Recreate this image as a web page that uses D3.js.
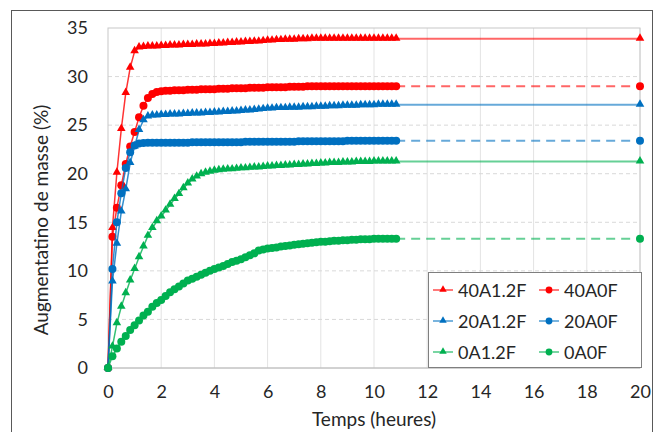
<!DOCTYPE html>
<html><head><meta charset="utf-8">
<script src="https://cdn.jsdelivr.net/npm/d3@7"></script>
<style>body{margin:0;background:#fff} svg{display:block} text{font-family:Lato,"Open Sans",sans-serif;fill:#262626}</style>
</head><body><svg id="c" width="653" height="432"></svg>
<script>
// time of each measurement (minutes)
const minutes = [0,10,20,30,40,50,60,70,80,90,100,110,120,130,140,150,160,170,180,190,200,210,220,230,240,250,260,270,280,290,300,310,320,330,340,350,360,370,380,390,400,410,420,430,440,450,460,470,480,490,500,510,520,530,540,550,560,570,580,590,600,610,620,630,640,650];
const seriesNames = ["40A1.2F","40A0F","20A1.2F","20A0F","0A1.2F","0A0F"];
const v40A12F = [0,14.4,20.1,24.6,28.3,30.9,32.6,33.0,33.05,33.1,33.1,33.1,33.15,
  33.15,33.2,33.2,33.2,33.25,33.25,33.25,33.3,33.3,33.3,33.35,33.35,
  33.4,33.4,33.45,33.45,33.5,33.5,33.55,33.55,33.6,33.6,33.65,33.7,
  33.7,33.75,33.75,33.8,33.8,33.8,33.85,33.85,33.85,33.9,33.9,33.9,
  33.9,33.9,33.9,33.9,33.9,33.9,33.9,33.9,33.9,33.9,33.9,33.9,33.9,33.9,33.9,33.9,33.9];
const v40A0F = [0,13.5,16.5,18.8,21.0,22.8,24.3,25.8,27.0,27.8,28.2,28.4,28.5,
  28.55,28.55,28.6,28.6,28.6,28.65,28.65,28.65,28.7,28.7,28.7,28.7,
  28.75,28.75,28.75,28.8,28.8,28.8,28.8,28.85,28.85,28.85,28.85,28.9,
  28.9,28.9,28.9,28.9,28.95,28.95,28.95,28.95,29.0,29.0,29.0,29.0,
  29.0,29.0,29.0,29.0,29.0,29.0,29.0,29.0,29.0,29.0,29.0,29.0,29.0,29.0,29.0,29.0,29.0];
const v20A12F = [0,8.9,12.8,16.1,18.4,21.1,22.8,24.5,25.5,25.9,26.0,26.0,26.05,
  26.05,26.1,26.1,26.1,26.15,26.15,26.2,26.2,26.2,26.25,26.25,26.3,
  26.3,26.35,26.35,26.4,26.4,26.45,26.5,26.5,26.55,26.6,26.65,26.7,
  26.7,26.75,26.75,26.75,26.8,26.8,26.8,26.85,26.85,26.85,26.9,26.9,
  26.9,26.95,26.95,26.95,27.0,27.0,27.0,27.0,27.05,27.05,27.05,27.05,27.1,27.1,27.1,27.1,27.1];
const v20A0F = [0,10.2,15.0,18.0,20.6,22.2,22.9,23.1,23.15,23.2,23.2,23.2,23.2,
  23.2,23.2,23.2,23.2,23.2,23.2,23.25,23.25,23.25,23.25,23.25,23.25,
  23.25,23.25,23.25,23.25,23.25,23.25,23.3,23.3,23.3,23.3,23.3,23.3,
  23.3,23.3,23.3,23.3,23.3,23.3,23.35,23.35,23.35,23.35,23.35,23.35,
  23.35,23.35,23.35,23.35,23.35,23.4,23.4,23.4,23.4,23.4,23.4,23.4,23.4,23.4,23.4,23.4,23.4];
const v0A12F = [0,2.2,4.6,6.3,7.7,9.0,10.2,11.4,12.5,13.6,14.4,15.1,15.6,
  16.2,16.8,17.4,17.9,18.5,19.0,19.4,19.7,19.95,20.1,20.2,20.3,
  20.35,20.4,20.45,20.45,20.5,20.55,20.55,20.6,20.65,20.65,20.7,20.75,
  20.75,20.8,20.8,20.85,20.85,20.9,20.9,20.95,20.95,21.0,21.0,21.05,
  21.05,21.1,21.1,21.1,21.15,21.15,21.15,21.2,21.2,21.2,21.2,21.25,21.25,21.25,21.25,21.25,21.25];
const v0A0F = [0,1.2,2.0,2.7,3.3,3.9,4.4,4.9,5.4,5.8,6.3,6.7,7.0,
  7.4,7.8,8.1,8.4,8.7,9.0,9.2,9.4,9.6,9.8,10.0,10.2,
  10.35,10.5,10.7,10.9,11.05,11.2,11.4,11.6,11.8,12.1,12.2,12.3,
  12.35,12.4,12.5,12.55,12.6,12.7,12.75,12.8,12.85,12.9,12.95,13.0,
  13.0,13.05,13.1,13.1,13.15,13.15,13.2,13.2,13.25,13.25,13.25,13.3,13.3,13.3,13.3,13.3,13.3];
// final measurement at 20 h
const finalHour = 20;
const finalValues = [33.9, 29.0, 27.1, 23.4, 21.25, 13.3];
const xTicks = [0,2,4,6,8,10,12,14,16,18,20];
const yTicks = [0,5,10,15,20,25,30,35];

const seriesValues = [v40A12F, v40A0F, v20A12F, v20A0F, v0A12F, v0A0F];
const colors = ["#ff0000","#ff0000","#0070c0","#0070c0","#00b050","#00b050"];
const shapes = ["tri","circ","tri","circ","tri","circ"];

const svg = d3.select("#c");
const x = d3.scaleLinear().domain([0,20]).range([108,640]);
const y = d3.scaleLinear().domain([0,35]).range([368,28]);

// outer frame
svg.append("rect").attr("x",11.5).attr("y",10.5).attr("width",641).attr("height",440)
  .attr("fill","none").attr("stroke","#595959").attr("stroke-width",1);

// grid
svg.append("g").selectAll("line").data(xTicks.slice(1)).join("line")
  .attr("x1",d=>x(d)).attr("x2",d=>x(d)).attr("y1",y(35)).attr("y2",y(0))
  .attr("stroke","#e3e3e3").attr("stroke-width",1);
svg.append("g").selectAll("line").data(yTicks.slice(1,-1)).join("line")
  .attr("x1",x(0)).attr("x2",x(20)).attr("y1",d=>y(d)).attr("y2",d=>y(d))
  .attr("stroke","#d9d9d9").attr("stroke-width",1).attr("stroke-dasharray","4,3");
// plot area border
svg.append("rect").attr("x",x(0)).attr("y",y(35)).attr("width",x(20)-x(0)).attr("height",y(0)-y(35))
  .attr("fill","none").attr("stroke","#c8c8c8").attr("stroke-width",1);
svg.append("line").attr("x1",x(0)).attr("x2",x(20)).attr("y1",y(0)).attr("y2",y(0))
  .attr("stroke","#bfbfbf").attr("stroke-width",1.2);

// axes labels
const gx = svg.append("g").attr("transform",`translate(0,${y(0)})`)
  .call(d3.axisBottom(x).tickValues(xTicks).tickSize(0).tickPadding(17));
gx.select(".domain").remove();
gx.selectAll("text").attr("font-size",18).attr("font-family","Lato").attr("fill","#262626");
const gy = svg.append("g").attr("transform",`translate(${x(0)},0)`)
  .call(d3.axisLeft(y).tickValues(yTicks).tickSize(0).tickPadding(20));
gy.select(".domain").remove();
gy.selectAll("text").attr("font-size",18).attr("font-family","Lato").attr("fill","#262626");

svg.append("text").attr("x",374).attr("y",426).attr("text-anchor","middle")
  .attr("font-size",19).text("Temps (heures)");
svg.append("text").attr("transform","translate(48,220) rotate(-90)").attr("text-anchor","middle")
  .attr("font-size",19).text("Augmentatino de masse (%)");

const tri = d3.symbol().type(d3.symbolTriangle).size(32);
const triL = d3.symbol().type(d3.symbolTriangle).size(24);
const line = d3.line().x(d=>x(d[0])).y(d=>y(d[1]));

seriesValues.forEach((vals,k)=>{
  const pts = minutes.map((m,i)=>[m/60, vals[i]]);
  const last = pts[pts.length-1];
  const g = svg.append("g");
  // tail to final measurement
  g.append("path").attr("d",line([last,[finalHour,finalValues[k]]]))
    .attr("fill","none").attr("stroke",colors[k]).attr("stroke-opacity",0.6).attr("stroke-width",2)
    .attr("stroke-dasharray",shapes[k]==="circ"?"9,6":null);
  g.append("path").attr("d",line(pts)).attr("fill","none").attr("stroke",colors[k])
    .attr("stroke-width",1.5).attr("stroke-opacity",0.8);
  const all = pts.concat([[finalHour,finalValues[k]]]);
  if(shapes[k]==="tri"){
    g.selectAll("path.m").data(all).join("path").attr("class","m")
      .attr("transform",d=>`translate(${x(d[0])},${y(d[1])-0.5})`).attr("d",tri).attr("fill",colors[k]);
  } else {
    g.selectAll("circle").data(all).join("circle")
      .attr("cx",d=>x(d[0])).attr("cy",d=>y(d[1])).attr("r",4).attr("fill",colors[k]);
  }
});

// legend
const lg = svg.append("g");
lg.append("rect").attr("x",428.5).attr("y",272.5).attr("width",213).attr("height",95)
  .attr("fill","#fff").attr("stroke","#7f7f7f").attr("stroke-width",1);
seriesNames.forEach((name,k)=>{
  const col = k%2, row = Math.floor(k/2);
  const lx = 433 + col*106, ly = 290 + row*31;
  lg.append("line").attr("x1",lx).attr("x2",lx+20).attr("y1",ly).attr("y2",ly)
    .attr("stroke",colors[k]).attr("stroke-width",1.5).attr("stroke-opacity",0.7);
  if(shapes[k]==="tri") lg.append("path").attr("transform",`translate(${lx+10},${ly-0.5})`).attr("d",triL).attr("fill",colors[k]);
  else lg.append("circle").attr("cx",lx+10).attr("cy",ly).attr("r",3.4).attr("fill",colors[k]);
  lg.append("text").attr("x",lx+25).attr("y",ly+6.5).attr("font-size",18).text(name);
});
</script>
</body></html>
